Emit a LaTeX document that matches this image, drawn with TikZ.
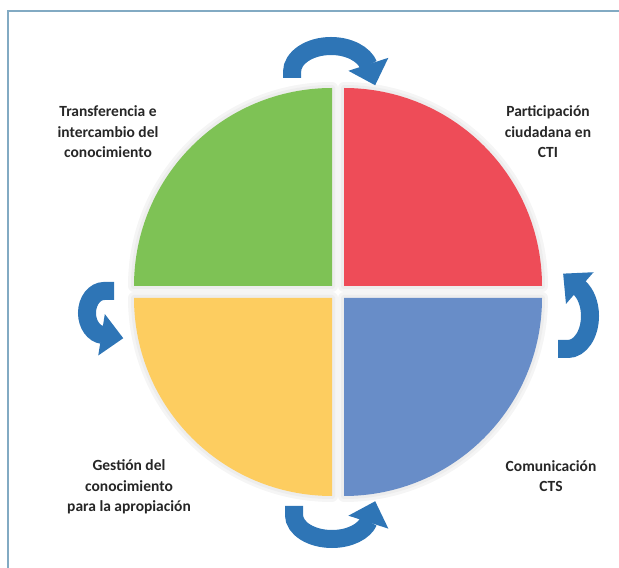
\documentclass[tikz,border=0pt]{standalone}
\usepackage{fontspec}
\setmainfont{Carlito}
\usetikzlibrary{calc}
\definecolor{verde}{RGB}{126,194,85}
\definecolor{rojo}{RGB}{238,76,88}
\definecolor{amarillo}{RGB}{253,205,96}
\definecolor{azulc}{RGB}{104,141,200}
\definecolor{giroazul}{RGB}{46,117,182}
\definecolor{marcoazul}{RGB}{130,170,195}
\newcommand\punta[2]{\fill[giroazul,shift={(#1)},rotate=#2] (-1,21)--(21,0)--(-1,-21)--cycle;}
\begin{document}
\begin{tikzpicture}[x=1pt,y=1pt,
    lbl/.style={align=center,font=\fontsize{15.5}{20.5}\selectfont\bfseries,text=black!85},
    giro/.style={draw=giroazul,line width=18pt},
    sombra/.style={line join=round}]
          \useasboundingbox (0,0) rectangle (619,568);
          \draw[marcoazul,line width=2.5pt] (8,0)--(8,557)--(619,557);
          % cuadrantes
          \foreach \cx/\cy/\ang/\col in {332/282/90/verde,344/282/0/rojo,332/270/180/amarillo,344/270/270/azulc}{
            \draw[sombra,black!4,line width=12pt] (\cx,\cy)--++(\ang:198) arc[start angle=\ang,end angle=\ang+90,radius=198]--cycle;
            \draw[sombra,black!7,line width=6pt] (\cx,\cy)--++(\ang:198) arc[start angle=\ang,end angle=\ang+90,radius=198]--cycle;
            \fill[\col] (\cx,\cy)--++(\ang:198) arc[start angle=\ang,end angle=\ang+90,radius=198]--cycle;
          }
          % flechas
          \draw[giro] (292,490)--(292,496) arc[start angle=180,end angle=15,x radius=39,y radius=26] coordinate (fa);
          \punta{fa}{-72}
          \draw[giro] (558,219)--(568,219) arc[start angle=-90,end angle=60,x radius=22,y radius=33] coordinate (fd);
          \punta{fd}{139}
          \draw[giro] (114,277)--(104,277) arc[start angle=90,end angle=265,x radius=17,y radius=22] coordinate (fi);
          \punta{fi}{-9}
          \draw[giro] (294,62)--(294,53) arc[start angle=180,end angle=345,x radius=38,y radius=24] coordinate (fb);
          \punta{fb}{72}
          % textos
          \node[lbl] (transf) at (108,436) {Transferencia e\\intercambio del\\conocimiento};
          \node[lbl] (partic) at (548,436) {Participación\\ciudadana en\\CTI};
          \node[lbl] (gestion) at (129,81) {Gestión del\\conocimiento\\para la apropiación};
          \node[lbl] (comun) at (551,92) {Comunicación\\CTS};
        \end{tikzpicture}
\end{document}
